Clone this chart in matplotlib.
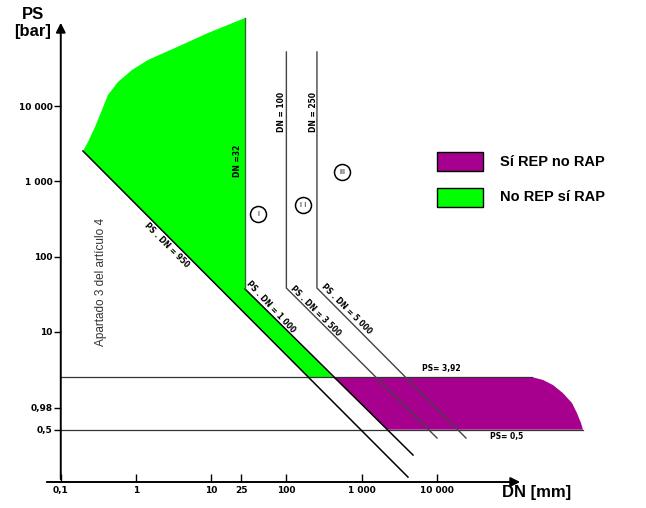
import numpy as np
import matplotlib.pyplot as plt
from matplotlib.patches import Polygon, Rectangle

plt.rcParams['font.family'] = ['Liberation Sans', 'DejaVu Sans']

# ---- data (DN in mm, PS in bar) ----
# green region "No REP si RAP": curved top, DN=32 edge, PS.DN=1000, PS=3,92 level, PS.DN=950
green_dn = [0.197, 0.230, 0.285, 0.353, 0.424, 0.576, 0.885, 1.44, 3.30, 9.07, 28.2, 28.2, 417, 194]
green_ps = [2536, 3342, 5290, 8900, 14090, 20990, 30300, 41130, 59400, 94000, 148900, 37.1, 2.5, 2.5]

# purple region "Si REP no RAP"
purple_dn = [417, 184500, 258400, 351000, 476500, 628000, 731000, 827000, 879000, 2200]
purple_ps = [2.5, 2.5, 2.29, 1.96, 1.53, 1.13, 0.832, 0.613, 0.5, 0.5]

# boundary lines
line950_dn = [0.197, 4140]
line950_ps = [2536, 0.117]
line1000_dn = [28.2, 4830]
line1000_ps = [37.1, 0.23]
dn32_dn = [28.2, 28.2]
dn32_ps = [148900, 37.1]
line3500_dn = [100, 100, 10070]
line3500_ps = [52600, 38.2, 0.387]
line5000_dn = [255, 255, 24450]
line5000_ps = [52600, 38.2, 0.387]

ps_high = 2.5      # drawn level of "PS= 3,92"
ps_high_end = 184500
ps_low = 0.5
ps_low_end = 879000

xticks = [0.1, 1, 10, 25, 100, 1000, 10000]
xlabels = ['0,1', '1', '10', '25', '100', '1 000', '10 000']
yticks = [0.5, 0.98, 10, 100, 1000, 10000]
ylabels = ['0,5', '0,98', '10', '100', '1 000', '10 000']

GREEN = '#00ff00'
PURPLE = '#a8008e'

W, H = 646, 508


def fx(x):
    return x / W


def fy(y):
    return 1 - y / H


fig = plt.figure(figsize=(6.46, 5.08), dpi=100)
ax = fig.add_axes([fx(44), 26 / H, (W - 44) / W, 482 / H])
ax.set_xscale('log')
ax.set_yscale('log')
ax.set_xlim(10 ** -1.223, 10 ** 6.782)
ax.set_ylim(10 ** -0.997, 10 ** 5.412)

ax.add_patch(Polygon(np.column_stack([green_dn, green_ps]), closed=True,
                     facecolor=GREEN, edgecolor='none', zorder=1))
ax.add_patch(Polygon(np.column_stack([purple_dn, purple_ps]), closed=True,
                     facecolor=PURPLE, edgecolor='none', zorder=1))

ax.plot([0.1, ps_high_end], [ps_high, ps_high], color='#333333', lw=0.9, zorder=2)
ax.plot([0.1, ps_low_end], [ps_low, ps_low], color='#333333', lw=0.9, zorder=2)

ax.plot(line950_dn, line950_ps, color='black', lw=1.1, zorder=3)
ax.plot(line1000_dn, line1000_ps, color='black', lw=1.1, zorder=3)
ax.plot(dn32_dn, dn32_ps, color='#2e6b2e', lw=1.0, zorder=3)
ax.plot(line3500_dn, line3500_ps, color='#444444', lw=1.0, zorder=3)
ax.plot(line5000_dn, line5000_ps, color='#444444', lw=1.0, zorder=3)

# axes with arrows
for s in ax.spines.values():
    s.set_visible(False)
ax.spines['left'].set_position(('data', 0.1))
ax.annotate('', xy=(0.1, 1.4e5), xytext=(0.1, 10 ** -0.997),
            arrowprops=dict(arrowstyle='-|>', color='black', lw=1.4, mutation_scale=14),
            annotation_clip=False)
ax.annotate('', xy=(1.4e5, 10 ** -0.997), xytext=(10 ** -1.223, 10 ** -0.997),
            arrowprops=dict(arrowstyle='-|>', color='black', lw=1.4, mutation_scale=14),
            annotation_clip=False)

ax.minorticks_off()
ax.set_xticks(xticks)
ax.set_xticklabels(xlabels)
ax.set_yticks(yticks)
ax.set_yticklabels(ylabels)
ax.tick_params(axis='x', direction='in', length=6, width=1, pad=3)
ax.tick_params(axis='y', direction='out', length=5, width=1, pad=1)
for lab in ax.get_xticklabels() + ax.get_yticklabels():
    lab.set_fontfamily('DejaVu Sans')
    lab.set_fontweight('bold')
    lab.set_fontsize(6.5)

# axis titles
fig.text(fx(33), fy(23), 'PS\n[bar]', ha='center', va='center', fontsize=12,
         fontweight='bold', linespacing=1.2)
fig.text(fx(502), fy(493), 'DN [mm]', ha='left', va='center', fontsize=12,
         fontweight='bold')

# annotations
small = dict(fontfamily='DejaVu Sans', fontweight='bold', fontsize=5.5,
             ha='center', va='center', rotation_mode='anchor')
fig.text(fx(167), fy(245), 'PS . DN = 950', rotation=-45, **small)
fig.text(fx(271), fy(307), 'PS . DN = 1 000', rotation=-47, **small)
fig.text(fx(316), fy(311), 'PS . DN = 3 500', rotation=-45, **small)
fig.text(fx(347), fy(309), 'PS . DN = 5 000', rotation=-45, **small)
fig.text(fx(441), fy(368), 'PS= 3,92', **small)
fig.text(fx(507), fy(436), 'PS= 0,5', **small)
fig.text(fx(282), fy(112), 'DN = 100', rotation=90, **small)
fig.text(fx(313), fy(112), 'DN = 250', rotation=90, **small)
fig.text(fx(238), fy(161), 'DN =32', rotation=90, **small)

fig.text(fx(101), fy(282), 'Apartado 3 del artículo 4', rotation=90, ha='center',
         va='center', fontsize=8.5, color='#333333')

for (cx, cy, num) in [(258, 214, 'I'), (303, 205, 'I I'), (342, 172, 'III')]:
    fig.add_artist(plt.Line2D([fx(cx)], [fy(cy)], marker='o', markersize=11.5,
                              markerfacecolor='white', markeredgecolor='black',
                              markeredgewidth=1.1, transform=fig.transFigure))
    fig.text(fx(cx), fy(cy), num, ha='center', va='center', fontsize=5,
             fontfamily='DejaVu Sans')

# legend
fig.add_artist(Rectangle((fx(437), fy(171)), fx(46), 19 / H, transform=fig.transFigure,
                         facecolor=PURPLE, edgecolor='black', lw=1))
fig.add_artist(Rectangle((fx(437), fy(207)), fx(46), 19 / H, transform=fig.transFigure,
                         facecolor=GREEN, edgecolor='black', lw=1))
fig.text(fx(500), fy(162), 'Sí REP no RAP', ha='left', va='center', fontsize=10.5,
         fontweight='bold')
fig.text(fx(500), fy(197), 'No REP sí RAP', ha='left', va='center', fontsize=10.5,
         fontweight='bold')

plt.savefig('out.png', dpi=100)
